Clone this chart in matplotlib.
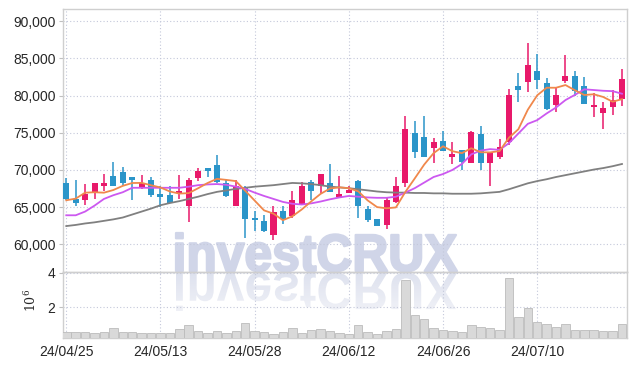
import numpy as np
import pandas as pd
import matplotlib
matplotlib.use("Agg")
import matplotlib.pyplot as plt
from matplotlib.textpath import TextPath
from matplotlib.font_manager import FontProperties
from matplotlib.patches import PathPatch
from matplotlib.transforms import Affine2D
from matplotlib.colors import LinearSegmentedColormap

# ---------------- data ----------------
dates = ["24/04/25", "24/04/26", "24/04/29", "24/04/30", "24/05/02", "24/05/03", "24/05/07", "24/05/08", "24/05/09", "24/05/10",
         "24/05/13", "24/05/14", "24/05/16", "24/05/17", "24/05/20", "24/05/21", "24/05/22", "24/05/23", "24/05/24", "24/05/27",
         "24/05/28", "24/05/29", "24/05/30", "24/05/31", "24/06/03", "24/06/04", "24/06/05", "24/06/07", "24/06/10", "24/06/11",
         "24/06/12", "24/06/13", "24/06/14", "24/06/17", "24/06/18", "24/06/19", "24/06/20", "24/06/21", "24/06/24", "24/06/25",
         "24/06/26", "24/06/27", "24/06/28", "24/07/01", "24/07/02", "24/07/03", "24/07/04", "24/07/05", "24/07/08", "24/07/09",
         "24/07/10", "24/07/11", "24/07/12", "24/07/15", "24/07/16", "24/07/17", "24/07/18", "24/07/19", "24/07/22", "24/07/23"]

opens = [68300, 66100, 65900, 66900, 67800, 69200, 69700, 69000, 67600, 68700,
         66800, 66600, 66900, 65100, 68900, 70200, 70700, 68200, 65100, 67600,
         63500, 63100, 61200, 64500, 63800, 65400, 68400, 67900, 68300, 66400,
         66900, 68500, 64800, 63400, 62600, 65700, 68200, 75000, 74400, 73000,
         73900, 71800, 72700, 70900, 74900, 71000, 71700, 73800, 81300, 81800,
         83300, 81700, 78800, 81900, 82600, 81300, 78500, 77700, 78400, 79500]
closes = [66100, 65500, 66700, 68200, 68200, 67900, 68300, 68600, 68300, 66600,
          66400, 65600, 67200, 68600, 69900, 69900, 68400, 66500, 67800, 63400,
          63300, 61800, 64300, 63400, 66000, 67900, 67200, 69400, 67000, 66800,
          67300, 65100, 63300, 62500, 66000, 67900, 75500, 72400, 71800, 73700,
          72500, 72200, 71100, 75100, 71000, 72400, 73100, 80100, 80800, 84100,
          82100, 78200, 80100, 82600, 80600, 78900, 78700, 78300, 79400, 82300]
highs = [68900, 68700, 68100, 68300, 69500, 71100, 70400, 69000, 69300, 69000,
         67900, 67900, 69300, 68900, 70200, 70200, 72000, 68700, 68600, 67800,
         64500, 63900, 65100, 65200, 67200, 68400, 68700, 69500, 70800, 69200,
         67900, 68700, 65100, 63400, 66400, 69000, 77300, 76600, 77300, 74300,
         75300, 73700, 72700, 75200, 75900, 72400, 74100, 80900, 83100, 87100,
         85600, 82400, 81000, 85400, 83300, 82500, 80300, 79200, 80700, 83600]
lows = [66000, 65100, 65300, 66100, 67200, 67800, 68000, 65900, 67500, 66400,
        65000, 65500, 66100, 63000, 68500, 69000, 68200, 66400, 65100, 60800,
        61800, 61700, 60600, 62700, 63500, 65400, 66000, 66900, 67000, 66400,
        66900, 63500, 63000, 62400, 62000, 65500, 67700, 71600, 71700, 70900,
        72500, 70800, 70000, 70900, 70000, 67800, 71500, 73400, 79200, 80500,
        80900, 78000, 77800, 81700, 80000, 78900, 77100, 75500, 77400, 78600]
prior_closes = [64400, 62700, 67900, 68500]   # closes before the window (for the 5-day average)

ma20 = [63900, 63900, 64400, 65200, 66100, 66600, 67000, 67600, 67600, 67600,
        67600, 67600, 67600, 67750, 67950, 68050, 68100, 68000, 67750, 67450,
        66950, 66500, 66100, 65700, 65450, 65350, 65500, 65750, 66050, 66300,
        66500, 66400, 66300, 66250, 66250, 66400, 66950, 67550, 68300, 69050,
        69450, 70000, 70800, 72100, 72600, 72800, 72700, 73600, 74900, 76200,
        76700, 77600, 78400, 79400, 80100, 80850, 80750, 80650, 80600, 80250]
ma60 = [62450, 62600, 62800, 62950, 63150, 63350, 63600, 64000, 64400, 64800,
        65250, 65550, 65800, 66100, 66400, 66750, 67050, 67250, 67450, 67600,
        67750, 67850, 67950, 68100, 68250, 68200, 68100, 67950, 67750, 67650,
        67550, 67400, 67250, 67100, 67000, 66950, 66950, 66900, 66900, 66850,
        66850, 66800, 66800, 66800, 66850, 66950, 67050, 67400, 67800, 68200,
        68500, 68750, 69050, 69300, 69550, 69800, 70050, 70250, 70500, 70800]
volumes_m = [0.59, 0.60, 0.60, 0.53, 0.60, 0.82, 0.60, 0.59, 0.53, 0.53,
             0.53, 0.53, 0.78, 0.99, 0.65, 0.53, 0.65, 0.53, 0.65, 1.11,
             0.65, 0.60, 0.47, 0.60, 0.82, 0.55, 0.72, 0.77, 0.65, 0.53,
             0.47, 0.99, 0.60, 0.47, 0.65, 0.78, 3.60, 1.54, 1.31, 0.82,
             0.72, 0.65, 0.59, 0.99, 0.88, 0.82, 0.72, 3.68, 1.45, 1.96,
             1.18, 1.05, 0.88, 1.05, 0.72, 0.72, 0.72, 0.65, 0.65, 1.05]
tick_idx = [0, 10, 20, 30, 40, 50]

# ---------------- styling ----------------
RED = "#e8196a"
BLUE = "#2b95c9"
ORANGE = "#f0884c"
PURPLE = "#cc58f0"
GRAY = "#808080"
GRID = "#c4c8da"
SPINE = "#cfcfcf"
TXT = "#262626"

names = {f.name for f in matplotlib.font_manager.fontManager.ttflist}
FONT = "Liberation Sans" if "Liberation Sans" in names else "DejaVu Sans"
plt.rcParams["font.family"] = [FONT, "DejaVu Sans"]

W, H = 635, 366
fig = plt.figure(figsize=(W / 100, H / 100), dpi=100)
fig.patch.set_facecolor("white")

bg = fig.add_axes([0, 0, 1, 1], zorder=0)
bg.axis("off")


def px_axes(l, t, r, b):
    return fig.add_axes([l / W, 1 - b / H, (r - l) / W, (b - t) / H])


L, R = 62.5, 626.7
ax = px_axes(L, 9, R, 272)
axv = px_axes(L, 272, R, 338)
for a in (ax, axv):
    a.set_zorder(2)
    a.patch.set_alpha(0)
    for s in a.spines.values():
        s.set_color(SPINE)
        s.set_linewidth(1.0)
    a.grid(True, color=GRID, linestyle=(0, (1, 2)), linewidth=0.8)
    a.set_axisbelow(True)
    a.tick_params(axis="y", length=3, color="#c0c0c0", labelsize=10, labelcolor=TXT, pad=2)
    a.tick_params(axis="x", length=0, labelsize=10, labelcolor=TXT, pad=5)

# ---------------- watermark ----------------
tp = TextPath((0, 0), "investCRUX", size=100, prop=FontProperties(family=FONT, weight="bold"))
ext = tp.get_extents()
x0, x1, base, top = 176, 457, 271, 233
sx = (x1 - x0) / ext.width
sy = (base - top) / ext.y1
up = Affine2D().translate(-ext.x0, 0).scale(sx, -sy).translate(x0, base)
dn = Affine2D().translate(-ext.x0, 0).scale(sx, sy).translate(x0, base + 2)
bg.add_patch(PathPatch(up.transform_path(tp), facecolor="#d0d5e8", edgecolor="#d0d5e8",
                       linewidth=1.6, joinstyle="round", transform=bg.transData))
rp = PathPatch(dn.transform_path(tp), facecolor="none", edgecolor="none", transform=bg.transData)
bg.add_patch(rp)
cmap = LinearSegmentedColormap.from_list("fade", ["#dde1ee", "#f2f3f8"])
im = bg.imshow(np.linspace(0, 1, 100).reshape(-1, 1), cmap=cmap, extent=[x0 - 5, x1 + 5, base + 45, base],
               aspect="auto", interpolation="bilinear")
im.set_clip_path(rp)
bg.set_xlim(0, W)
bg.set_ylim(H, 0)

# ---------------- candles ----------------
n = len(closes)
x = np.arange(n)
o = np.array(opens)
c = np.array(closes)
hi = np.array(highs)
lo = np.array(lows)
cols = [RED if cc >= oo else BLUE for oo, cc in zip(o, c)]
ax.vlines(x, lo, hi, colors=cols, linewidth=1.1, zorder=3)
body = np.maximum(np.abs(c - o), 120)
ax.bar(x, body, bottom=np.minimum(o, c), width=0.64, color=cols, linewidth=0, zorder=4)

ma5 = pd.Series(prior_closes + closes).rolling(5).mean().to_numpy()[len(prior_closes):]
ax.plot(x, ma60, color=GRAY, lw=1.3, zorder=5)
ax.plot(x, ma20, color=PURPLE, lw=1.3, zorder=5)
ax.plot(x, ma5, color=ORANGE, lw=1.3, zorder=5)

ax.set_xlim(-0.4, 59.5)
ax.set_ylim(56270, 91650)
ax.set_yticks(range(60000, 90001, 5000))
ax.set_yticklabels([f"{v:,}" for v in range(60000, 90001, 5000)])
ax.set_xticks(tick_idx)
ax.set_xticklabels([])

# ---------------- volume ----------------
vol = np.array(volumes_m) * 1e6
axv.bar(x, vol, width=0.9, color="#d9d9d9", edgecolor="#bcbcbc", linewidth=0.6, zorder=3)
axv.set_xlim(-0.4, 59.5)
axv.set_ylim(0.25e6, 4.03e6)
axv.set_yticks([2e6, 4e6])
axv.set_yticklabels(["2", "4"])
axv.set_xticks(tick_idx)
axv.set_xticklabels([dates[i] for i in tick_idx])
fig.text(31 / W, 1 - 300 / H, r"$\mathregular{10^{6}}$", rotation=90, ha="center", va="center",
         fontsize=9, family="DejaVu Serif", color=TXT)

fig.savefig("out.png", dpi=100, facecolor="white")
